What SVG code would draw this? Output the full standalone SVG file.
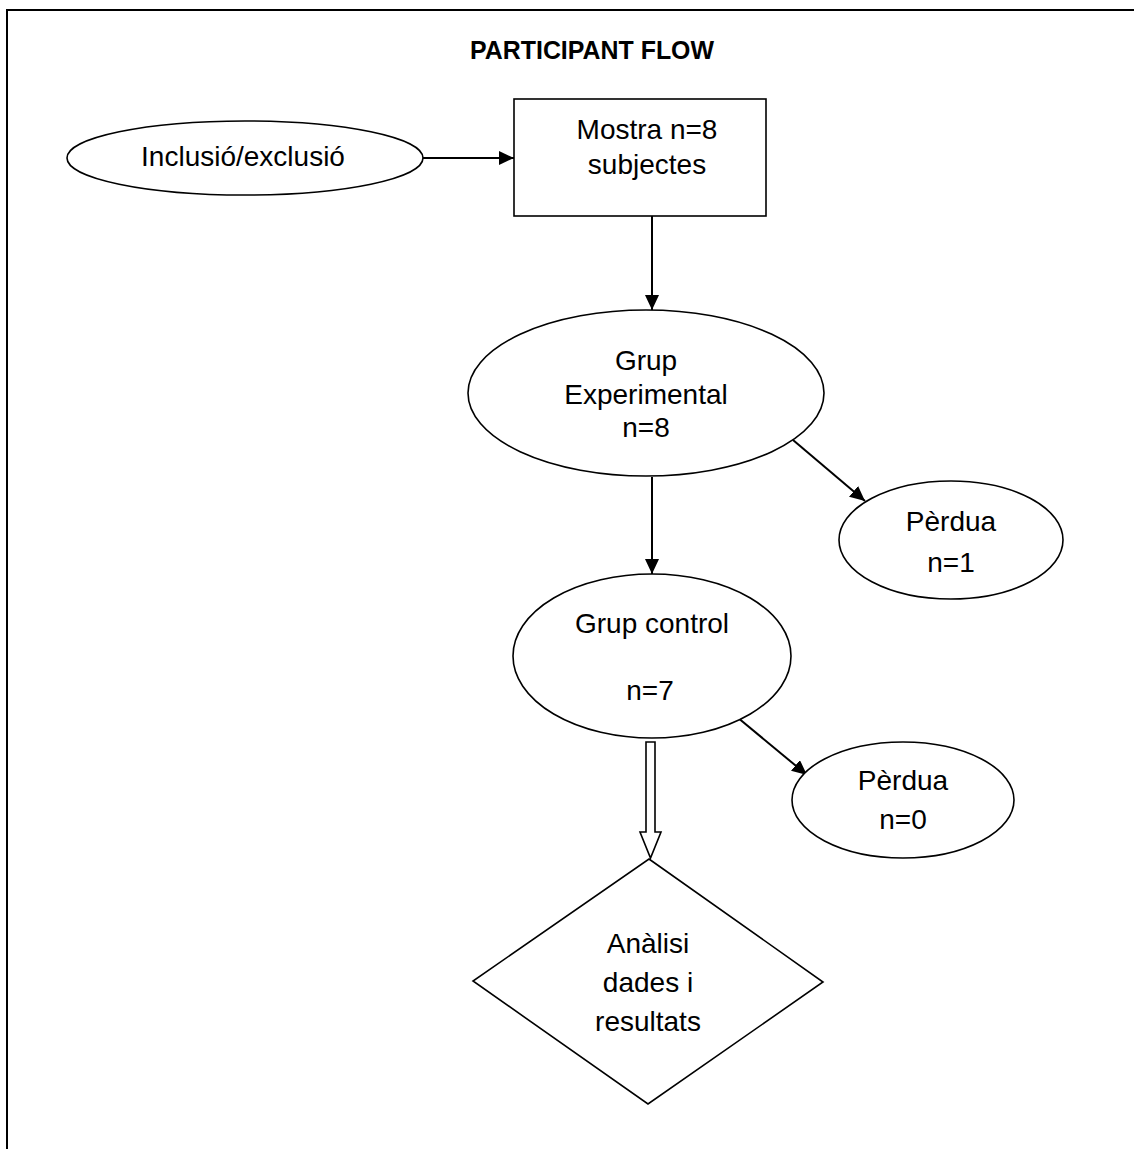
<svg xmlns="http://www.w3.org/2000/svg" width="1134" height="1149" viewBox="0 0 1134 1149">
  <style>
    .shape { fill: #ffffff; stroke: #000000; stroke-width: 1.6; }
    .conn { stroke: #000000; stroke-width: 2; fill: none; }
    .lbl { font-family: "Liberation Sans", Arial, sans-serif; font-size: 28px; fill: #000000; text-anchor: middle; }
    .title { font-family: "Liberation Sans", Arial, sans-serif; font-size: 25px; font-weight: bold; fill: #000000; text-anchor: middle; }
  </style>
  <defs>
    <marker id="arrow" markerUnits="userSpaceOnUse" markerWidth="16" markerHeight="14" refX="15" refY="7" orient="auto">
      <path d="M0,0 L15,7 L0,14 z" fill="#000000"/>
    </marker>
  </defs>
  <rect x="0" y="0" width="1134" height="1149" fill="#ffffff"/>
  <g id="frame">
    <path d="M7,1149 L7,10 L1134,10" fill="none" stroke="#000000" stroke-width="2"/>
  </g>
  <g id="title">
    <text class="title" x="592" y="59" textLength="244" lengthAdjust="spacingAndGlyphs">PARTICIPANT FLOW</text>
  </g>
  <g id="connectors">
    <line class="conn" x1="423" y1="158" x2="514" y2="158" marker-end="url(#arrow)"/>
    <line class="conn" x1="652" y1="216" x2="652" y2="310" marker-end="url(#arrow)"/>
    <line class="conn" x1="793" y1="440" x2="865" y2="501" marker-end="url(#arrow)"/>
    <line class="conn" x1="652" y1="477" x2="652" y2="574" marker-end="url(#arrow)"/>
    <line class="conn" x1="737" y1="717" x2="807" y2="775" marker-end="url(#arrow)"/>
    <path d="M646,742 L655,742 L655,832 L661,832 L650.5,858 L640,832 L646,832 Z" fill="#ffffff" stroke="#000000" stroke-width="1.6"/>
  </g>
  <g id="node-inclusio">
    <ellipse class="shape" cx="245" cy="158" rx="178" ry="37"/>
    <text class="lbl" x="243" y="166">Inclusió/exclusió</text>
  </g>
  <g id="node-mostra">
    <rect class="shape" x="514" y="99" width="252" height="117"/>
    <text class="lbl" x="647" y="139">Mostra n=8</text>
    <text class="lbl" x="647" y="174">subjectes</text>
  </g>
  <g id="node-experimental">
    <ellipse class="shape" cx="646" cy="393" rx="178" ry="83"/>
    <text class="lbl" x="646" y="370">Grup</text>
    <text class="lbl" x="646" y="404">Experimental</text>
    <text class="lbl" x="646" y="437">n=8</text>
  </g>
  <g id="node-perdua1">
    <ellipse class="shape" cx="951" cy="540" rx="112" ry="59"/>
    <text class="lbl" x="951" y="531">Pèrdua</text>
    <text class="lbl" x="951" y="572">n=1</text>
  </g>
  <g id="node-control">
    <ellipse class="shape" cx="652" cy="656" rx="139" ry="82"/>
    <text class="lbl" x="652" y="633">Grup control</text>
    <text class="lbl" x="650" y="700">n=7</text>
  </g>
  <g id="node-perdua0">
    <ellipse class="shape" cx="903" cy="800" rx="111" ry="58"/>
    <text class="lbl" x="903" y="790">Pèrdua</text>
    <text class="lbl" x="903" y="829">n=0</text>
  </g>
  <g id="node-analisi">
    <polygon class="shape" points="649,859 823,982 648,1104 473,981"/>
    <text class="lbl" x="648" y="953">Anàlisi</text>
    <text class="lbl" x="648" y="992">dades i</text>
    <text class="lbl" x="648" y="1031">resultats</text>
  </g>
</svg>
